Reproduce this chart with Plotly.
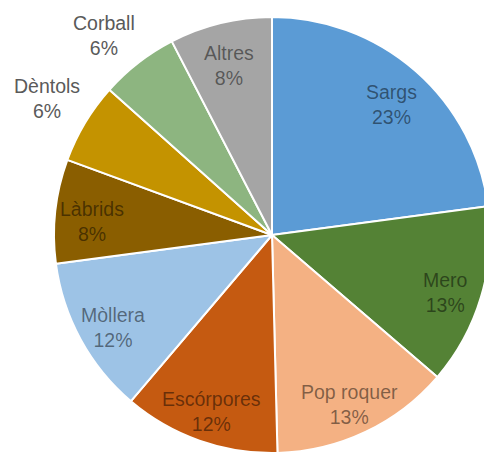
import math
import plotly.graph_objects as go

labels = ["Sargs", "Mero", "Pop roquer", "Escórpores", "Mòllera",
          "Làbrids", "Dèntols", "Corball", "Altres"]
values = [22.9, 13.4, 13.3, 11.6, 11.7, 7.7, 6.0, 5.8, 7.6]
colors = ["#5B9BD5", "#548235", "#F4B183", "#C55A11", "#9DC3E6",
          "#8A5E00", "#C49300", "#8DB580", "#A5A5A5"]
outside = ["Dèntols", "Corball"]

W, H = 492, 455
# the page body has an 8px margin, so the paper sits 8px right/down in the window
CX, CY, R = 264, 227, 218

fig = go.Figure(
    go.Pie(
        labels=labels,
        values=values,
        sort=False,
        direction="clockwise",
        rotation=0,
        marker=dict(colors=colors, line=dict(color="white", width=2)),
        textinfo="none",
        showlegend=False,
        domain=dict(x=[(CX - R) / W, (CX + R) / W],
                    y=[(H - CY - R) / H, (H - CY + R) / H]),
    )
)

# labels placed like the spreadsheet chart: inside ones near the rim,
# the two small ones outside with their lower-right corner at the rim
total = sum(values)
cum = 0
for lab, v in zip(labels, values):
    mid = (cum + v / 2) / total
    cum += v
    ang = 2 * math.pi * mid
    out = lab in outside
    rf = 1.045 if out else 0.83
    px = CX + math.sin(ang) * rf * R
    py = CY - math.cos(ang) * rf * R
    fig.add_annotation(
        x=px / W, y=1 - py / H, xref="paper", yref="paper",
        text=f"{lab}<br>{round(v / total * 100)}%",
        showarrow=False,
        xanchor="right" if out else "center",
        yanchor="bottom" if out else "middle",
        xshift=5 if out else 0,
        yshift=-6,
        font=dict(family="Liberation Sans, Arial", size=19.5,
                  color="#5a5a5a" if out else "rgba(0,0,0,0.48)"),
    )

fig.update_layout(
    width=W,
    height=H,
    margin=dict(l=0, r=0, t=0, b=0),
    paper_bgcolor="white",
    plot_bgcolor="white",
)
fig.write_html("out.html")
